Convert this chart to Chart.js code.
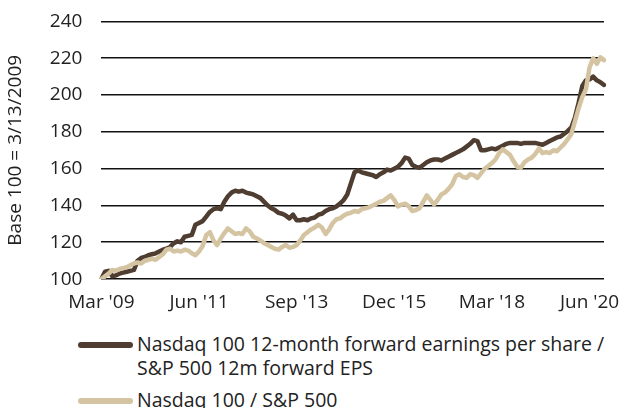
<!DOCTYPE html>
<html>
<head>
<meta charset="utf-8">
<script src="https://cdn.jsdelivr.net/npm/chart.js@4/dist/chart.umd.min.js"></script>
<style>
  body { margin: 0; background: #fff; font-family: "Open Sans", sans-serif; color: #222; }
  #wrap { position: relative; width: 624px; height: 408px; overflow: hidden; }
  #box { position: absolute; left: 0; top: -8px; width: 624px; height: 326px; }
  .legend { position: absolute; left: 78px; font-size: 19.5px; line-height: 24px; }
  .item { display: flex; align-items: flex-start; margin-bottom: 8px; }
  .swatch { width: 55px; height: 6px; border-radius: 3px; margin-top: 10px; margin-right: 4px; flex: none; }
</style>
</head>
<body>
<div id="wrap">
  <div id="box"><canvas id="chart"></canvas></div>
  <div class="legend" id="legend" style="top:332px"></div>
</div>
<script>
// Monthly readings, Mar 2009 -> Oct 2020 (base 100 = 3/13/2009)
const startYear = 2009, startMonth = 2; // March
const tickLabels = ["Mar '09", "Jun '11", "Sep '13", "Dec '15", "Mar '18", "Jun '20"];
const tickEvery = 27; // months between labels

const epsRatio = [
  100, 104, 104.5, 101.5, 102, 103, 103.5, 104, 104.5, 105,
  110, 111.5, 112, 113, 113.5, 114, 115, 116, 116.5, 117.5,
  119.5, 120.5, 120, 123, 123.5, 124, 129.5, 130.5, 131.5, 134,
  136.5, 138, 138.5, 138, 142, 145, 147, 148, 147.5, 148,
  147, 146.5, 146, 145, 144, 142, 140, 138.5, 137.5, 136,
  135.5, 134.5, 133, 135, 132, 132, 132.5, 132, 133, 133.5,
  135, 135.5, 137, 138, 138.5, 139.5, 141, 143, 146, 152,
  158, 159, 158, 157.5, 157, 156.5, 155.5, 157, 158, 159.5,
  159, 160, 161, 163, 166, 165.5, 162, 161, 160.5, 162,
  163.5, 164.5, 165, 165, 164.5, 165.5, 166.5, 167.5, 168.5, 169.5,
  170.5, 172, 173.5, 175.5, 175, 170, 170, 170.5, 171, 170.5,
  171.5, 172.5, 173.5, 174, 174, 174, 173.5, 174, 174, 174,
  174, 173.5, 173, 174, 175, 176, 177, 177.5, 179, 180.5,
  182.5, 188, 196, 205, 208, 208.5, 210, 208, 207, 205.5
];

const priceRatio = [
  100, 101.5, 103, 105, 104.5, 105.5, 106, 106.5, 107.5, 108.5,
  109, 108.5, 110, 110.5, 111, 110.5, 112, 113.5, 116, 116.5,
  115, 115.5, 115, 116, 115.5, 114, 113, 115, 118, 124,
  125.5, 121, 118.5, 122, 125, 127.5, 126, 124.5, 125, 124.5,
  127.5, 126, 123, 122, 121, 119.5, 118.5, 117.5, 116.5, 116,
  117.5, 118.5, 117, 117.5, 118.5, 121, 124, 125.5, 127, 128,
  129.5, 128, 124.5, 127, 130.5, 132.5, 133, 134.5, 135.5, 136,
  137, 136.5, 138, 138.5, 139, 140, 141, 142, 142.5, 144,
  145.5, 143, 139.5, 140.5, 141, 139.5, 137, 137.5, 138.5, 142,
  145.5, 143, 140.5, 143, 146, 147, 149, 151.5, 156, 157,
  155.5, 155, 157, 156.5, 155, 157.5, 160, 161.5, 163, 165,
  168.5, 170.5, 169, 167.5, 164, 161, 160.5, 163.5, 165, 166,
  168, 171, 168.5, 169, 168.5, 170, 169.5, 171.5, 173.5, 176,
  179, 186, 193, 199, 203, 215, 220, 217, 220.5, 219
];

const seriesNames = [
  "Nasdaq 100 12-month forward earnings per share / S&P 500 12m forward EPS",
  "Nasdaq 100 / S&P 500"
];
const colors = ['#4e3d30', '#d5c4a1'];

// month labels for the category axis
const months = epsRatio.map((_, i) => {
  const d = new Date(startYear, startMonth + i, 1);
  return d.toLocaleString('en-US', { month: 'short' }) + " '" + String(d.getFullYear()).slice(2);
});

const tickFont = { family: '"Open Sans", sans-serif', size: 19, lineHeight: 1.1 };
const titleFont = { family: '"Open Sans", sans-serif', size: 19 };

new Chart(document.getElementById('chart'), {
  type: 'line',
  data: {
    labels: months,
    datasets: [
      { label: seriesNames[0], data: epsRatio, borderColor: colors[0], order: 1 },
      { label: seriesNames[1], data: priceRatio, borderColor: colors[1], order: 0 }
    ]
  },
  options: {
    responsive: true,
    maintainAspectRatio: false,
    animation: false,
    layout: { padding: { left: 0, right: 20, top: 11, bottom: 0 } },
    elements: {
      line: { borderWidth: 4.5, tension: 0, borderCapStyle: 'round', borderJoinStyle: 'round' },
      point: { radius: 0 }
    },
    plugins: { legend: { display: false }, tooltip: { enabled: false } },
    scales: {
      x: {
        offset: false,
        grid: { display: false },
        border: { display: false },
        ticks: {
          autoSkip: false, maxRotation: 0, color: '#222', font: tickFont, padding: 5,
          callback: (v, i) => (i % tickEvery === 0 ? tickLabels[i / tickEvery] : '')
        }
      },
      y: {
        min: 100, max: 240,
        grid: { color: '#111', lineWidth: 1.6, drawTicks: false },
        border: { display: false },
        ticks: { stepSize: 20, color: '#222', font: tickFont, padding: 19 },
        title: { display: true, text: 'Base 100 = 3/13/2009', color: '#222', font: titleFont, padding: 4 }
      }
    }
  }
});

// legend below the chart
const legend = document.getElementById('legend');
seriesNames.forEach((name, i) => {
  const row = document.createElement('div');
  row.className = 'item';
  const text = i === 0 ? name.replace(' S&P 500 12m', '<br>S&P 500 12m') : name;
  row.innerHTML = `<span class="swatch" style="background:${colors[i]}"></span><span>${text.replace(/&(?!P)/g, '&amp;')}</span>`;
  legend.appendChild(row);
});
</script>
</body>
</html>
